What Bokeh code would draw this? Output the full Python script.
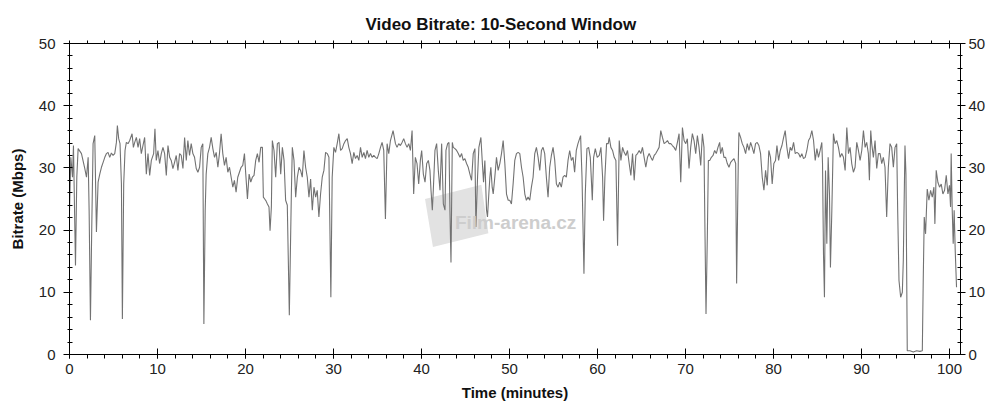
from bokeh.plotting import figure
from bokeh.models import Range1d, LinearAxis, Label, FixedTicker
from bokeh.embed import file_html
from bokeh.resources import INLINE

TITLE = "Video Bitrate: 10-Second Window"
X_LABEL = "Time (minutes)"
Y_LABEL = "Bitrate (Mbps)"
X_TICKS = [0, 10, 20, 30, 40, 50, 60, 70, 80, 90, 100]
Y_TICKS = [0, 10, 20, 30, 40, 50]

T_0_20 = [0.00, 0.15, 0.34, 0.45, 0.68, 0.83, 0.98, 1.36, 1.74, 1.93, 2.12, 2.23, 2.38, 2.53, 2.68, 2.87,
          3.06, 3.25, 3.44, 3.63, 3.82, 4.01, 4.20, 4.38, 4.57, 4.76, 4.95, 5.14, 5.33, 5.44, 5.59, 5.74,
          5.90, 6.01, 6.16, 6.31, 6.46, 6.65, 6.84, 7.11, 7.26, 7.41, 7.60, 7.79, 7.97, 8.16, 8.35, 8.54,
          8.73, 8.92, 9.11, 9.30, 9.56, 9.71, 9.86, 10.05, 10.24, 10.43, 10.62, 10.81, 11.00, 11.19, 11.38,
          11.56, 11.75, 11.94, 12.13, 12.32, 12.51, 12.70, 12.89, 13.08, 13.27, 13.45, 13.64, 13.83, 14.02,
          14.21, 14.40, 14.59, 14.78, 14.97, 15.15, 15.27, 15.42, 15.53, 15.72, 15.91, 16.10, 16.29, 16.48,
          16.67, 16.86, 17.04, 17.23, 17.42, 17.61, 17.80, 17.99, 18.18, 18.37, 18.56, 18.74, 18.93, 19.12,
          19.31, 19.50, 19.69, 19.88]
V_0_20 = [23.0, 31.7, 28.5, 33.6, 14.3, 28.5, 33.1, 32.3, 29.9, 28.5, 31.7, 23.2, 5.5, 20.5, 33.9, 35.2,
          19.7, 27.7, 29.0, 30.1, 30.9, 31.7, 32.3, 32.5, 31.7, 32.4, 32.0, 32.3, 34.1, 36.8, 34.7, 33.9,
          27.4, 5.7, 27.4, 32.8, 34.1, 33.9, 34.4, 35.5, 33.3, 34.1, 34.9, 33.3, 34.7, 32.3, 33.6, 34.9,
          29.0, 32.3, 28.8, 31.2, 32.3, 36.3, 31.2, 32.8, 30.7, 32.3, 33.3, 32.3, 28.8, 33.6, 31.7,
          31.2, 29.9, 30.9, 32.0, 29.6, 32.3, 32.0, 29.9, 34.9, 31.2, 34.4, 32.0, 33.9, 32.3,
          31.7, 29.9, 29.3, 30.1, 33.3, 33.9, 4.9, 23.2, 29.0, 32.3, 33.3, 34.9, 33.1, 31.7,
          32.5, 30.1, 32.3, 35.5, 32.3, 30.4, 31.7, 29.3, 30.1, 28.5, 26.9, 28.0, 26.1, 28.5,
          29.3, 30.1, 30.4, 32.3]

T_20_40 = [20.03, 20.22, 20.41, 20.60, 20.78, 20.97, 21.16, 21.35, 21.54, 21.73, 21.92, 22.03, 22.18, 22.33,
           22.49, 22.67, 22.79, 22.94, 23.05, 23.24, 23.43, 23.62, 23.81, 24.00, 24.19, 24.38, 24.56, 24.75,
           24.98, 25.21, 25.32, 25.51, 25.70, 25.89, 26.08, 26.26, 26.45, 26.64, 26.83, 27.02, 27.21, 27.40,
           27.59, 27.78, 27.97, 28.15, 28.34, 28.53, 28.72, 28.91, 29.10, 29.29, 29.48, 29.70, 29.85, 30.04,
           30.23, 30.42, 30.61, 30.80, 30.99, 31.18, 31.37, 31.56, 31.74, 31.93, 32.12, 32.31, 32.50, 32.69,
           32.88, 33.07, 33.26, 33.45, 33.63, 33.82, 34.01, 34.20, 34.39, 34.58, 34.77, 34.96, 35.15, 35.34,
           35.52, 35.71, 35.90, 36.09, 36.28, 36.47, 36.77, 37.04, 37.22, 37.41, 37.60, 37.79, 37.98, 38.17,
           38.36, 38.55, 38.74, 38.93, 39.11, 39.30, 39.49, 39.68, 39.87]
V_20_40 = [29.0, 25.0, 29.0, 27.7, 28.5, 28.8, 31.2, 32.3, 30.9, 33.3, 33.3, 25.3, 25.0, 24.7,
           24.2, 23.7, 19.9, 23.7, 34.4, 32.8, 28.5, 33.9, 34.1, 29.0, 33.3, 31.2, 24.8, 24.0,
           6.3, 25.8, 33.3, 31.2, 25.3, 28.5, 30.1, 29.6, 28.5, 32.8, 30.1, 28.5, 25.3, 28.2,
           23.2, 26.9, 25.3, 26.4, 22.1, 25.8, 28.5, 29.6, 32.5, 32.3, 31.7, 9.2, 28.5, 33.3,
           32.5, 33.9, 35.5, 32.8, 33.1, 33.9, 34.4, 34.7, 33.3, 32.3, 30.7, 32.5, 31.5, 32.0,
           31.2, 33.3, 31.7, 32.5, 31.5, 32.8, 31.7, 32.3, 31.7, 32.0, 31.7, 31.5, 32.3, 33.3,
           34.1, 32.8, 21.8, 33.9, 32.3, 34.4, 36.0, 33.9, 33.3, 33.9, 33.6, 34.1, 34.7, 33.9,
           33.3, 33.9, 32.8, 36.0, 25.8, 31.7, 30.7, 27.4, 31.2]

T_40_60 = [40.02, 40.21, 40.40, 40.59, 40.78, 40.96, 41.08, 41.23, 41.34, 41.53, 41.72, 41.91, 42.10, 42.29,
           42.48, 42.67, 42.78, 42.97, 43.12, 43.23, 43.35, 43.50, 43.61, 43.80, 43.99, 44.18, 44.37, 44.56,
           44.74, 44.93, 45.12, 45.31, 45.50, 45.69, 45.88, 46.07, 46.18, 46.37, 46.52, 46.75, 46.90, 47.05,
           47.20, 47.39, 47.50, 47.65, 47.77, 47.88, 48.03, 48.15, 48.33, 48.52, 48.71, 48.90, 49.09, 49.28,
           49.47, 49.66, 49.85, 50.03, 50.22, 50.41, 50.60, 50.79, 50.98, 51.17, 51.36, 51.55, 51.74, 51.92,
           52.11, 52.30, 52.49, 52.68, 52.87, 53.06, 53.25, 53.44, 53.63, 53.81, 54.00, 54.19, 54.38, 54.57,
           54.76, 54.95, 55.14, 55.33, 55.52, 55.70, 55.89, 56.08, 56.27, 56.46, 56.65, 56.84, 57.03, 57.22,
           57.40, 57.59, 57.78, 58.08, 58.24, 58.46, 58.61, 58.80, 58.99, 59.18, 59.29, 59.41, 59.56, 59.75,
           59.97]
V_40_60 = [32.8, 29.0, 27.7, 30.7, 31.2, 29.6, 26.4, 23.2, 26.4, 32.8, 33.9, 29.6, 26.4, 33.9,
           24.2, 23.2, 32.8, 33.9, 34.1, 23.2, 14.8, 34.1, 33.3, 33.1, 32.8, 32.3, 31.7, 32.3,
           31.2, 31.5, 30.7, 30.1, 29.0, 28.0, 32.3, 33.1, 20.5, 28.5, 33.3, 34.9, 31.2, 27.7,
           31.2, 23.2, 22.1, 25.8, 28.5, 30.1, 26.9, 25.8, 28.5, 31.7, 29.6, 30.7, 32.3, 34.4,
           30.7, 25.8, 24.8, 24.8, 24.2, 27.4, 31.2, 32.3, 32.5, 32.3, 30.1, 28.5, 25.8, 24.8,
           25.3, 24.8, 26.9, 28.5, 32.3, 33.3, 31.7, 29.6, 32.8, 33.3, 32.3, 28.5, 25.3, 30.1,
           32.0, 33.3, 31.2, 27.4, 26.9, 27.7, 26.9, 28.5, 28.8, 28.5, 31.2, 32.8, 31.2, 31.7,
           29.3, 32.8, 33.9, 35.2, 28.5, 13.0, 25.8, 33.1, 33.3, 31.7, 28.5, 24.8, 31.7, 33.1,
           31.7]

T_60_80 = [60.20, 60.39, 60.58, 60.69, 60.84, 61.03, 61.22, 61.33, 61.52, 61.71, 61.90, 62.09, 62.28, 62.47,
           62.66, 62.85, 63.03, 63.22, 63.41, 63.60, 63.79, 63.98, 64.17, 64.36, 64.55, 64.74, 64.92, 65.11,
           65.30, 65.49, 65.68, 65.87, 66.06, 66.25, 66.44, 66.62, 66.81, 67.00, 67.19, 67.38, 67.57, 67.76,
           67.95, 68.14, 68.33, 68.51, 68.70, 68.89, 69.08, 69.27, 69.46, 69.65, 69.84, 70.03, 70.21, 70.40,
           70.59, 70.78, 70.97, 71.16, 71.35, 71.54, 71.73, 71.92, 72.10, 72.22, 72.33, 72.48, 72.60, 72.75,
           72.94, 73.13, 73.31, 73.50, 73.69, 73.88, 73.99, 74.18, 74.37, 74.56, 74.75, 74.94, 75.13, 75.32,
           75.51, 75.70, 75.81, 76.00, 76.07, 76.26, 76.45, 76.64, 76.83, 77.02, 77.21, 77.40, 77.58, 77.77,
           77.96, 78.15, 78.34, 78.53, 78.72, 78.91, 79.10, 79.29, 79.47, 79.66, 79.85, 80.04, 80.23]
V_60_80 = [32.0, 33.3, 28.5, 21.5, 28.5, 33.9, 33.9, 34.9, 33.3, 32.8, 31.7, 31.2, 17.5, 34.4,
           31.2, 33.3, 32.5, 32.0, 32.8, 30.7, 28.8, 32.3, 28.0, 32.0, 32.3, 32.8, 32.3, 33.3,
           31.7, 30.1, 31.7, 32.3, 31.7, 31.2, 32.0, 32.3, 32.8, 33.3, 36.0, 34.9, 33.9, 34.1,
           34.4, 33.9, 33.9, 33.6, 33.3, 32.8, 34.1, 35.5, 27.7, 36.5, 34.4, 33.9, 34.7, 29.9,
           33.3, 35.5, 34.4, 32.3, 35.2, 33.3, 30.4, 35.5, 33.3, 18.9, 6.5, 18.9, 31.2, 31.2,
           31.7, 32.0, 32.8, 32.3, 33.3, 34.1, 32.3, 33.3, 31.7, 31.7, 30.7, 30.1, 30.9, 31.2,
           31.5, 30.7, 11.4, 31.2, 35.7, 34.9, 33.9, 33.3, 32.3, 33.9, 32.8, 34.1, 33.3, 32.3,
           33.9, 34.1, 33.6, 32.3, 28.5, 26.4, 29.6, 27.2, 32.8, 31.7, 27.4, 30.7, 31.2]

T_80_101 = [80.39, 80.58, 80.77, 80.96, 81.15, 81.33, 81.52, 81.71, 81.90, 82.09, 82.28, 82.47, 82.66, 82.85,
            83.04, 83.22, 83.41, 83.60, 83.79, 83.98, 84.17, 84.36, 84.55, 84.74, 84.93, 85.11, 85.30, 85.49,
            85.57, 85.68, 85.79, 85.91, 86.06, 86.21, 86.36, 86.47, 86.63, 86.81, 87.00, 87.19, 87.38, 87.57,
            87.76, 87.95, 88.14, 88.33, 88.52, 88.70, 88.89, 89.08, 89.27, 89.46, 89.65, 89.84, 90.03, 90.22,
            90.41, 90.59, 90.78, 90.90, 91.05, 91.16, 91.35, 91.54, 91.73, 91.92, 92.11, 92.30, 92.48, 92.67,
            92.86, 93.05, 93.24, 93.43, 93.62, 93.81, 94.00, 94.11, 94.26, 94.45, 94.64, 94.75, 94.94, 95.05,
            95.20, 95.51, 95.89, 96.26, 96.64, 96.91, 97.02, 97.13, 97.28, 97.47, 97.66, 97.85, 98.04, 98.23,
            98.34, 98.49, 98.68, 98.87, 99.06, 99.25, 99.44, 99.63, 99.82, 100.00, 100.12, 100.19, 100.31,
            100.42, 100.53, 100.65, 100.80]
V_80_101 = [33.6, 31.2, 32.8, 33.6, 34.9, 36.0, 33.3, 31.5, 33.3, 32.8, 34.1, 32.3, 32.5, 32.3,
            31.7, 32.3, 31.5, 31.7, 32.8, 34.4, 34.9, 36.0, 34.4, 31.2, 33.1, 31.7, 32.8, 34.1,
            30.7, 16.2, 9.2, 29.6, 17.8, 31.7, 25.8, 14.0, 23.2, 35.5, 33.9, 34.4, 33.3, 31.7,
            32.3, 31.7, 29.6, 36.5, 32.3, 33.3, 30.7, 29.3, 30.1, 34.1, 32.8, 31.2, 32.8, 36.0,
            33.3, 34.1, 32.3, 28.0, 36.0, 33.9, 31.7, 34.4, 29.9, 32.3, 32.3, 30.7, 31.7, 30.1,
            22.1, 30.1, 33.9, 33.3, 30.1, 33.3, 33.9, 23.2, 11.9, 9.2, 10.0, 15.1, 33.6, 29.0,
            0.6, 0.6, 0.4, 0.6, 0.5, 0.6, 12.4, 22.1, 19.4, 26.6, 24.8, 26.4, 25.3, 26.9,
            21.0, 29.6, 27.7, 26.9, 27.4, 25.8, 26.4, 28.8, 25.8, 27.2, 23.7, 32.3, 23.2,
            17.8, 23.2, 16.7, 10.8]

TIME_MIN = T_0_20 + T_20_40 + T_40_60 + T_60_80 + T_80_101
BITRATE_MBPS = V_0_20 + V_20_40 + V_40_60 + V_60_80 + V_80_101

WATERMARK_TEXT = "Film-arena.cz"
WM_X = [40.4, 46.8, 47.6, 41.3]
WM_Y = [25.0, 27.3, 19.5, 17.3]

FONT = "Liberation Sans"

p = figure(width=988, height=404, output_backend="svg", toolbar_location=None,
           x_range=Range1d(0, 101.25), y_range=Range1d(0, 50),
           min_border_left=69, min_border_right=20, min_border_top=43, min_border_bottom=50)
p.background_fill_color = "white"
p.border_fill_color = "white"
p.outline_line_color = "black"
p.outline_line_width = 1
p.grid.visible = False

p.title.text = TITLE
p.title.align = "left"
p.title.offset = 296
p.title.standoff = 14
p.title.text_font = FONT
p.title.text_font_size = "17px"
p.title.text_font_style = "bold"
p.title.text_color = "#111111"

# watermark
p.patch(WM_X, WM_Y, fill_color="#e2e2e2", line_color=None)
p.add_layout(Label(x=43.8, y=21.2, text=WATERMARK_TEXT, text_font=FONT, text_font_size="19px",
                   text_font_style="bold", text_color="#cdcdcd", text_baseline="middle"))

p.line(TIME_MIN, BITRATE_MBPS, line_color="#727272", line_width=1.1)

xt = FixedTicker(ticks=X_TICKS, minor_ticks=list(range(0, 102, 2)))
yt = FixedTicker(ticks=Y_TICKS, minor_ticks=list(range(0, 51, 2)))


def style(ax):
    ax.axis_line_color = "black"
    ax.major_tick_line_color = "black"
    ax.minor_tick_line_color = "black"
    ax.major_label_text_font = FONT
    ax.major_label_text_font_size = "15px"
    ax.major_label_text_color = "#222222"
    ax.axis_label_text_font = FONT
    ax.axis_label_text_font_size = "15px"
    ax.axis_label_text_font_style = "bold"
    ax.axis_label_text_color = "#111111"


xa = p.xaxis[0]
xa.ticker = xt
xa.axis_label = X_LABEL
style(xa)
xa.major_tick_out = 4
xa.major_tick_in = 6
xa.minor_tick_out = 4
xa.minor_tick_in = 0
xa.major_label_standoff = 5
xa.axis_label_standoff = 7

ya = p.yaxis[0]
ya.ticker = yt
ya.axis_label = Y_LABEL
style(ya)
ya.major_tick_out = 6
ya.major_tick_in = 0
ya.minor_tick_out = 2
ya.minor_tick_in = 3
ya.major_label_standoff = 8
ya.axis_label_standoff = 10

ra = LinearAxis(ticker=FixedTicker(ticks=Y_TICKS, minor_ticks=list(range(0, 51, 2))))
style(ra)
ra.major_tick_out = 5
ra.major_tick_in = 0
ra.minor_tick_out = 2
ra.minor_tick_in = 3
ra.major_label_standoff = 3
p.add_layout(ra, "right")

ta = LinearAxis(ticker=FixedTicker(ticks=X_TICKS, minor_ticks=list(range(0, 102, 2))))
style(ta)
ta.major_label_text_font_size = "1px"
ta.major_label_text_color = None
ta.major_label_text_alpha = 0
ta.major_tick_out = 0
ta.major_tick_in = 5
ta.minor_tick_out = 3
ta.minor_tick_in = 0
ta.major_label_standoff = 0
p.add_layout(ta, "above")

open("out.html", "w").write(file_html(p, INLINE))
